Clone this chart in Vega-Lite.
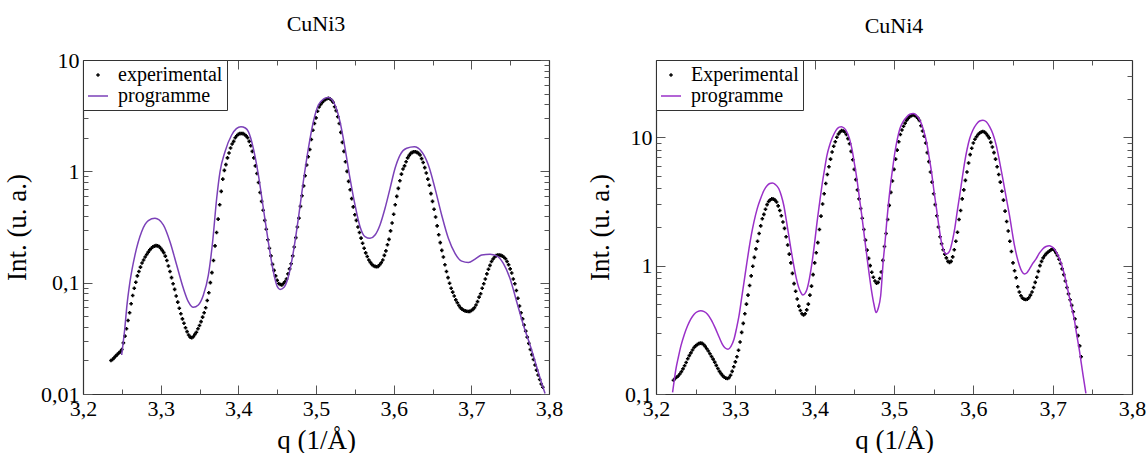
{
"$schema": "https://vega.github.io/schema/vega-lite/v6.json",
"background": "white",
"padding": {"left": 3, "top": 13, "right": 0, "bottom": 0},
"spacing": 23,
"config": {
  "view": {"stroke": null},
  "font": "Liberation Serif",
  "title": {"font": "Liberation Serif", "fontSize": 22, "fontWeight": "normal", "color": "black"},
  "axis": {"labelFont": "Liberation Serif", "titleFont": "Liberation Serif", "labelFontSize": 22, "titleFontSize": 27, "titleFontWeight": "normal", "labelColor": "black", "titleColor": "black", "domainColor": "#333", "tickColor": "#555", "grid": false, "domainWidth": 1.2, "labelOverlap": false, "labelFlush": false},
  "legend": {"orient": "top-left", "offset": 0, "padding": 4, "strokeColor": "#333", "fillColor": "white", "labelFont": "Liberation Serif", "labelFontSize": 20, "labelColor": "black", "symbolSize": 400, "symbolStrokeWidth": 1.5, "labelOffset": 9, "rowPadding": 0, "labelLimit": 300, "symbolOpacity": 1}
},
"resolve": {"scale": {"color": "independent", "shape": "independent"}, "legend": {"color": "independent", "shape": "independent"}},
"datasets": {
"cuni3": [
{"series":"experimental","q":3.236,"int":0.02},{"series":"experimental","q":3.238,"int":0.0204},{"series":"experimental","q":3.24,"int":0.0211},{"series":"experimental","q":3.242,"int":0.0219},{"series":"experimental","q":3.244,"int":0.0226},{"series":"experimental","q":3.246,"int":0.0233},{"series":"experimental","q":3.248,"int":0.024},{"series":"experimental","q":3.25,"int":0.0251},{"series":"experimental","q":3.252,"int":0.0288},{"series":"experimental","q":3.254,"int":0.0331},{"series":"experimental","q":3.256,"int":0.0385},{"series":"experimental","q":3.258,"int":0.0457},{"series":"experimental","q":3.26,"int":0.0537},{"series":"experimental","q":3.262,"int":0.0646},{"series":"experimental","q":3.264,"int":0.0767},{"series":"experimental","q":3.266,"int":0.0891},{"series":"experimental","q":3.268,"int":0.101},{"series":"experimental","q":3.27,"int":0.115},{"series":"experimental","q":3.272,"int":0.126},{"series":"experimental","q":3.274,"int":0.138},{"series":"experimental","q":3.276,"int":0.15},{"series":"experimental","q":3.278,"int":0.16},{"series":"experimental","q":3.28,"int":0.17},{"series":"experimental","q":3.282,"int":0.179},{"series":"experimental","q":3.284,"int":0.188},{"series":"experimental","q":3.286,"int":0.197},{"series":"experimental","q":3.288,"int":0.204},{"series":"experimental","q":3.29,"int":0.21},{"series":"experimental","q":3.292,"int":0.213},{"series":"experimental","q":3.294,"int":0.215},{"series":"experimental","q":3.296,"int":0.214},{"series":"experimental","q":3.298,"int":0.211},{"series":"experimental","q":3.3,"int":0.204},{"series":"experimental","q":3.302,"int":0.195},{"series":"experimental","q":3.304,"int":0.186},{"series":"experimental","q":3.306,"int":0.173},{"series":"experimental","q":3.308,"int":0.158},{"series":"experimental","q":3.31,"int":0.141},{"series":"experimental","q":3.312,"int":0.126},{"series":"experimental","q":3.314,"int":0.111},{"series":"experimental","q":3.316,"int":0.0977},{"series":"experimental","q":3.318,"int":0.0871},{"series":"experimental","q":3.32,"int":0.0759},{"series":"experimental","q":3.322,"int":0.0668},{"series":"experimental","q":3.324,"int":0.0589},{"series":"experimental","q":3.326,"int":0.0525},{"series":"experimental","q":3.328,"int":0.0473},{"series":"experimental","q":3.33,"int":0.0432},{"series":"experimental","q":3.332,"int":0.0394},{"series":"experimental","q":3.334,"int":0.0363},{"series":"experimental","q":3.336,"int":0.0339},{"series":"experimental","q":3.338,"int":0.0324},{"series":"experimental","q":3.34,"int":0.0321},{"series":"experimental","q":3.342,"int":0.0327},{"series":"experimental","q":3.344,"int":0.0343},{"series":"experimental","q":3.346,"int":0.0359},{"series":"experimental","q":3.348,"int":0.0385},{"series":"experimental","q":3.35,"int":0.0412},{"series":"experimental","q":3.352,"int":0.0447},{"series":"experimental","q":3.354,"int":0.049},{"series":"experimental","q":3.356,"int":0.0537},{"series":"experimental","q":3.358,"int":0.0596},{"series":"experimental","q":3.36,"int":0.0692},{"series":"experimental","q":3.362,"int":0.0813},{"series":"experimental","q":3.364,"int":0.1},{"series":"experimental","q":3.366,"int":0.123},{"series":"experimental","q":3.368,"int":0.158},{"series":"experimental","q":3.37,"int":0.214},{"series":"experimental","q":3.372,"int":0.282},{"series":"experimental","q":3.374,"int":0.372},{"series":"experimental","q":3.376,"int":0.501},{"series":"experimental","q":3.378,"int":0.661},{"series":"experimental","q":3.38,"int":0.851},{"series":"experimental","q":3.382,"int":1.02},{"series":"experimental","q":3.384,"int":1.15},{"series":"experimental","q":3.386,"int":1.32},{"series":"experimental","q":3.388,"int":1.46},{"series":"experimental","q":3.39,"int":1.62},{"series":"experimental","q":3.392,"int":1.76},{"series":"experimental","q":3.394,"int":1.86},{"series":"experimental","q":3.396,"int":2.0},{"series":"experimental","q":3.398,"int":2.09},{"series":"experimental","q":3.4,"int":2.15},{"series":"experimental","q":3.402,"int":2.18},{"series":"experimental","q":3.404,"int":2.19},{"series":"experimental","q":3.406,"int":2.18},{"series":"experimental","q":3.408,"int":2.14},{"series":"experimental","q":3.41,"int":2.08},{"series":"experimental","q":3.412,"int":2.0},{"series":"experimental","q":3.414,"int":1.86},{"series":"experimental","q":3.416,"int":1.7},{"series":"experimental","q":3.418,"int":1.51},{"series":"experimental","q":3.42,"int":1.32},{"series":"experimental","q":3.422,"int":1.12},{"series":"experimental","q":3.424,"int":0.955},{"series":"experimental","q":3.426,"int":0.794},{"series":"experimental","q":3.428,"int":0.646},{"series":"experimental","q":3.43,"int":0.537},{"series":"experimental","q":3.432,"int":0.447},{"series":"experimental","q":3.434,"int":0.363},{"series":"experimental","q":3.436,"int":0.302},{"series":"experimental","q":3.438,"int":0.243},{"series":"experimental","q":3.44,"int":0.204},{"series":"experimental","q":3.442,"int":0.174},{"series":"experimental","q":3.444,"int":0.146},{"series":"experimental","q":3.446,"int":0.129},{"series":"experimental","q":3.448,"int":0.115},{"series":"experimental","q":3.45,"int":0.105},{"series":"experimental","q":3.452,"int":0.0984},{"series":"experimental","q":3.454,"int":0.0962},{"series":"experimental","q":3.456,"int":0.0953},{"series":"experimental","q":3.458,"int":0.0982},{"series":"experimental","q":3.46,"int":0.102},{"series":"experimental","q":3.462,"int":0.108},{"series":"experimental","q":3.464,"int":0.12},{"series":"experimental","q":3.466,"int":0.133},{"series":"experimental","q":3.468,"int":0.148},{"series":"experimental","q":3.47,"int":0.174},{"series":"experimental","q":3.472,"int":0.209},{"series":"experimental","q":3.474,"int":0.254},{"series":"experimental","q":3.476,"int":0.316},{"series":"experimental","q":3.478,"int":0.38},{"series":"experimental","q":3.48,"int":0.484},{"series":"experimental","q":3.482,"int":0.603},{"series":"experimental","q":3.484,"int":0.741},{"series":"experimental","q":3.486,"int":0.912},{"series":"experimental","q":3.488,"int":1.14},{"series":"experimental","q":3.49,"int":1.35},{"series":"experimental","q":3.492,"int":1.57},{"series":"experimental","q":3.494,"int":1.93},{"series":"experimental","q":3.496,"int":2.34},{"series":"experimental","q":3.498,"int":2.69},{"series":"experimental","q":3.5,"int":3.02},{"series":"experimental","q":3.502,"int":3.47},{"series":"experimental","q":3.504,"int":3.78},{"series":"experimental","q":3.506,"int":3.98},{"series":"experimental","q":3.508,"int":4.15},{"series":"experimental","q":3.51,"int":4.3},{"series":"experimental","q":3.512,"int":4.42},{"series":"experimental","q":3.514,"int":4.49},{"series":"experimental","q":3.516,"int":4.53},{"series":"experimental","q":3.518,"int":4.49},{"series":"experimental","q":3.52,"int":4.35},{"series":"experimental","q":3.522,"int":4.17},{"series":"experimental","q":3.524,"int":3.8},{"series":"experimental","q":3.526,"int":3.51},{"series":"experimental","q":3.528,"int":3.09},{"series":"experimental","q":3.53,"int":2.69},{"series":"experimental","q":3.532,"int":2.24},{"series":"experimental","q":3.534,"int":1.82},{"series":"experimental","q":3.536,"int":1.51},{"series":"experimental","q":3.538,"int":1.22},{"series":"experimental","q":3.54,"int":1.0},{"series":"experimental","q":3.542,"int":0.813},{"series":"experimental","q":3.544,"int":0.684},{"series":"experimental","q":3.546,"int":0.569},{"series":"experimental","q":3.548,"int":0.479},{"series":"experimental","q":3.55,"int":0.407},{"series":"experimental","q":3.552,"int":0.363},{"series":"experimental","q":3.554,"int":0.316},{"series":"experimental","q":3.556,"int":0.282},{"series":"experimental","q":3.558,"int":0.251},{"series":"experimental","q":3.56,"int":0.226},{"series":"experimental","q":3.562,"int":0.204},{"series":"experimental","q":3.564,"int":0.185},{"series":"experimental","q":3.566,"int":0.172},{"series":"experimental","q":3.568,"int":0.16},{"series":"experimental","q":3.57,"int":0.152},{"series":"experimental","q":3.572,"int":0.146},{"series":"experimental","q":3.574,"int":0.142},{"series":"experimental","q":3.576,"int":0.14},{"series":"experimental","q":3.578,"int":0.139},{"series":"experimental","q":3.58,"int":0.14},{"series":"experimental","q":3.582,"int":0.145},{"series":"experimental","q":3.584,"int":0.151},{"series":"experimental","q":3.586,"int":0.16},{"series":"experimental","q":3.588,"int":0.176},{"series":"experimental","q":3.59,"int":0.193},{"series":"experimental","q":3.592,"int":0.219},{"series":"experimental","q":3.594,"int":0.245},{"series":"experimental","q":3.596,"int":0.292},{"series":"experimental","q":3.598,"int":0.343},{"series":"experimental","q":3.6,"int":0.412},{"series":"experimental","q":3.602,"int":0.501},{"series":"experimental","q":3.604,"int":0.596},{"series":"experimental","q":3.606,"int":0.703},{"series":"experimental","q":3.608,"int":0.822},{"series":"experimental","q":3.61,"int":0.944},{"series":"experimental","q":3.612,"int":1.05},{"series":"experimental","q":3.614,"int":1.12},{"series":"experimental","q":3.616,"int":1.22},{"series":"experimental","q":3.618,"int":1.32},{"series":"experimental","q":3.62,"int":1.39},{"series":"experimental","q":3.622,"int":1.45},{"series":"experimental","q":3.624,"int":1.48},{"series":"experimental","q":3.626,"int":1.5},{"series":"experimental","q":3.628,"int":1.5},{"series":"experimental","q":3.63,"int":1.48},{"series":"experimental","q":3.632,"int":1.45},{"series":"experimental","q":3.634,"int":1.4},{"series":"experimental","q":3.636,"int":1.3},{"series":"experimental","q":3.638,"int":1.2},{"series":"experimental","q":3.64,"int":1.08},{"series":"experimental","q":3.642,"int":0.966},{"series":"experimental","q":3.644,"int":0.851},{"series":"experimental","q":3.646,"int":0.75},{"series":"experimental","q":3.648,"int":0.631},{"series":"experimental","q":3.65,"int":0.537},{"series":"experimental","q":3.652,"int":0.457},{"series":"experimental","q":3.654,"int":0.389},{"series":"experimental","q":3.656,"int":0.324},{"series":"experimental","q":3.658,"int":0.269},{"series":"experimental","q":3.66,"int":0.229},{"series":"experimental","q":3.662,"int":0.195},{"series":"experimental","q":3.664,"int":0.17},{"series":"experimental","q":3.666,"int":0.145},{"series":"experimental","q":3.668,"int":0.126},{"series":"experimental","q":3.67,"int":0.111},{"series":"experimental","q":3.672,"int":0.0989},{"series":"experimental","q":3.674,"int":0.0891},{"series":"experimental","q":3.676,"int":0.0822},{"series":"experimental","q":3.678,"int":0.0759},{"series":"experimental","q":3.68,"int":0.07},{"series":"experimental","q":3.682,"int":0.0661},{"series":"experimental","q":3.684,"int":0.0624},{"series":"experimental","q":3.686,"int":0.0596},{"series":"experimental","q":3.688,"int":0.0578},{"series":"experimental","q":3.69,"int":0.0566},{"series":"experimental","q":3.692,"int":0.0558},{"series":"experimental","q":3.694,"int":0.0553},{"series":"experimental","q":3.696,"int":0.055},{"series":"experimental","q":3.698,"int":0.0552},{"series":"experimental","q":3.7,"int":0.0562},{"series":"experimental","q":3.702,"int":0.0575},{"series":"experimental","q":3.704,"int":0.0596},{"series":"experimental","q":3.706,"int":0.0631},{"series":"experimental","q":3.708,"int":0.0676},{"series":"experimental","q":3.71,"int":0.0741},{"series":"experimental","q":3.712,"int":0.0794},{"series":"experimental","q":3.714,"int":0.0891},{"series":"experimental","q":3.716,"int":0.0977},{"series":"experimental","q":3.718,"int":0.108},{"series":"experimental","q":3.72,"int":0.12},{"series":"experimental","q":3.722,"int":0.132},{"series":"experimental","q":3.724,"int":0.143},{"series":"experimental","q":3.726,"int":0.155},{"series":"experimental","q":3.728,"int":0.163},{"series":"experimental","q":3.73,"int":0.17},{"series":"experimental","q":3.732,"int":0.175},{"series":"experimental","q":3.734,"int":0.177},{"series":"experimental","q":3.736,"int":0.177},{"series":"experimental","q":3.738,"int":0.176},{"series":"experimental","q":3.74,"int":0.173},{"series":"experimental","q":3.742,"int":0.169},{"series":"experimental","q":3.744,"int":0.164},{"series":"experimental","q":3.746,"int":0.155},{"series":"experimental","q":3.748,"int":0.145},{"series":"experimental","q":3.75,"int":0.133},{"series":"experimental","q":3.752,"int":0.122},{"series":"experimental","q":3.754,"int":0.108},{"series":"experimental","q":3.756,"int":0.0977},{"series":"experimental","q":3.758,"int":0.0851},{"series":"experimental","q":3.76,"int":0.0724},{"series":"experimental","q":3.762,"int":0.0617},{"series":"experimental","q":3.764,"int":0.0537},{"series":"experimental","q":3.766,"int":0.0473},{"series":"experimental","q":3.768,"int":0.0417},{"series":"experimental","q":3.77,"int":0.0367},{"series":"experimental","q":3.772,"int":0.0324},{"series":"experimental","q":3.774,"int":0.0285},{"series":"experimental","q":3.776,"int":0.0251},{"series":"experimental","q":3.778,"int":0.0226},{"series":"experimental","q":3.78,"int":0.0204},{"series":"experimental","q":3.782,"int":0.0182},{"series":"experimental","q":3.784,"int":0.0164},{"series":"experimental","q":3.786,"int":0.0148},{"series":"experimental","q":3.788,"int":0.0135},{"series":"experimental","q":3.79,"int":0.0123},{"series":"experimental","q":3.792,"int":0.0115},
{"series":"programme","q":3.2498,"int":0.0224},{"series":"programme","q":3.2519,"int":0.0295},{"series":"programme","q":3.254,"int":0.04},{"series":"programme","q":3.2562,"int":0.059},{"series":"programme","q":3.2605,"int":0.102},{"series":"programme","q":3.2669,"int":0.177},{"series":"programme","q":3.2755,"int":0.287},{"series":"programme","q":3.2841,"int":0.36},{"series":"programme","q":3.2927,"int":0.378},{"series":"programme","q":3.3034,"int":0.33},{"series":"programme","q":3.312,"int":0.233},{"series":"programme","q":3.3206,"int":0.144},{"series":"programme","q":3.3292,"int":0.089},{"series":"programme","q":3.3356,"int":0.0675},{"series":"programme","q":3.342,"int":0.06},{"series":"programme","q":3.3485,"int":0.063},{"series":"programme","q":3.3549,"int":0.077},{"series":"programme","q":3.3614,"int":0.117},{"series":"programme","q":3.3669,"int":0.233},{"series":"programme","q":3.3721,"int":0.57},{"series":"programme","q":3.3764,"int":0.99},{"series":"programme","q":3.3828,"int":1.5},{"series":"programme","q":3.3914,"int":2.12},{"series":"programme","q":3.3975,"int":2.42},{"series":"programme","q":3.4034,"int":2.52},{"series":"programme","q":3.409,"int":2.45},{"series":"programme","q":3.4129,"int":2.27},{"series":"programme","q":3.4193,"int":1.61},{"series":"programme","q":3.4258,"int":0.93},{"series":"programme","q":3.4322,"int":0.466},{"series":"programme","q":3.4386,"int":0.233},{"series":"programme","q":3.4451,"int":0.126},{"series":"programme","q":3.4502,"int":0.092},{"series":"programme","q":3.4537,"int":0.087},{"series":"programme","q":3.4589,"int":0.091},{"series":"programme","q":3.4644,"int":0.113},{"series":"programme","q":3.4709,"int":0.19},{"series":"programme","q":3.4773,"int":0.378},{"series":"programme","q":3.4837,"int":0.81},{"series":"programme","q":3.4902,"int":1.61},{"series":"programme","q":3.4966,"int":2.79},{"series":"programme","q":3.503,"int":3.94},{"series":"programme","q":3.5095,"int":4.45},{"series":"programme","q":3.5159,"int":4.6},{"series":"programme","q":3.5245,"int":3.94},{"series":"programme","q":3.5309,"int":2.79},{"series":"programme","q":3.5374,"int":1.61},{"series":"programme","q":3.5438,"int":0.865},{"series":"programme","q":3.5502,"int":0.5},{"series":"programme","q":3.5567,"int":0.318},{"series":"programme","q":3.5631,"int":0.259},{"series":"programme","q":3.5695,"int":0.25},{"series":"programme","q":3.576,"int":0.268},{"series":"programme","q":3.5824,"int":0.33},{"series":"programme","q":3.5889,"int":0.466},{"series":"programme","q":3.5953,"int":0.7},{"series":"programme","q":3.6017,"int":1.06},{"series":"programme","q":3.6082,"int":1.4},{"series":"programme","q":3.6168,"int":1.61},{"series":"programme","q":3.6266,"int":1.66},{"series":"programme","q":3.6361,"int":1.5},{"series":"programme","q":3.6447,"int":1.14},{"series":"programme","q":3.6533,"int":0.7},{"series":"programme","q":3.6618,"int":0.405},{"series":"programme","q":3.6704,"int":0.25},{"series":"programme","q":3.679,"int":0.183},{"series":"programme","q":3.6876,"int":0.156},{"series":"programme","q":3.6962,"int":0.152},{"series":"programme","q":3.7048,"int":0.163},{"series":"programme","q":3.7133,"int":0.177},{"series":"programme","q":3.7241,"int":0.18},{"series":"programme","q":3.7326,"int":0.174},{"series":"programme","q":3.7412,"int":0.149},{"series":"programme","q":3.7498,"int":0.109},{"series":"programme","q":3.7584,"int":0.0675},{"series":"programme","q":3.767,"int":0.0417},{"series":"programme","q":3.7756,"int":0.0275},{"series":"programme","q":3.7841,"int":0.0176},{"series":"programme","q":3.7906,"int":0.0125},{"series":"programme","q":3.7949,"int":0.0101}
],
"cuni4": [
{"series":"Experimental","q":3.222,"int":0.128},{"series":"Experimental","q":3.224,"int":0.132},{"series":"Experimental","q":3.226,"int":0.135},{"series":"Experimental","q":3.228,"int":0.138},{"series":"Experimental","q":3.23,"int":0.143},{"series":"Experimental","q":3.232,"int":0.149},{"series":"Experimental","q":3.234,"int":0.157},{"series":"Experimental","q":3.236,"int":0.166},{"series":"Experimental","q":3.238,"int":0.176},{"series":"Experimental","q":3.24,"int":0.188},{"series":"Experimental","q":3.242,"int":0.199},{"series":"Experimental","q":3.244,"int":0.209},{"series":"Experimental","q":3.246,"int":0.22},{"series":"Experimental","q":3.248,"int":0.23},{"series":"Experimental","q":3.25,"int":0.237},{"series":"Experimental","q":3.252,"int":0.243},{"series":"Experimental","q":3.254,"int":0.247},{"series":"Experimental","q":3.256,"int":0.249},{"series":"Experimental","q":3.258,"int":0.248},{"series":"Experimental","q":3.26,"int":0.243},{"series":"Experimental","q":3.262,"int":0.235},{"series":"Experimental","q":3.264,"int":0.225},{"series":"Experimental","q":3.266,"int":0.216},{"series":"Experimental","q":3.268,"int":0.206},{"series":"Experimental","q":3.27,"int":0.196},{"series":"Experimental","q":3.272,"int":0.187},{"series":"Experimental","q":3.274,"int":0.177},{"series":"Experimental","q":3.276,"int":0.167},{"series":"Experimental","q":3.278,"int":0.158},{"series":"Experimental","q":3.28,"int":0.15},{"series":"Experimental","q":3.282,"int":0.144},{"series":"Experimental","q":3.284,"int":0.139},{"series":"Experimental","q":3.286,"int":0.135},{"series":"Experimental","q":3.288,"int":0.133},{"series":"Experimental","q":3.29,"int":0.132},{"series":"Experimental","q":3.292,"int":0.134},{"series":"Experimental","q":3.294,"int":0.14},{"series":"Experimental","q":3.296,"int":0.15},{"series":"Experimental","q":3.298,"int":0.163},{"series":"Experimental","q":3.3,"int":0.178},{"series":"Experimental","q":3.302,"int":0.195},{"series":"Experimental","q":3.304,"int":0.219},{"series":"Experimental","q":3.306,"int":0.254},{"series":"Experimental","q":3.308,"int":0.302},{"series":"Experimental","q":3.31,"int":0.355},{"series":"Experimental","q":3.312,"int":0.422},{"series":"Experimental","q":3.314,"int":0.501},{"series":"Experimental","q":3.316,"int":0.589},{"series":"Experimental","q":3.318,"int":0.7},{"series":"Experimental","q":3.32,"int":0.832},{"series":"Experimental","q":3.322,"int":0.99},{"series":"Experimental","q":3.324,"int":1.16},{"series":"Experimental","q":3.326,"int":1.35},{"series":"Experimental","q":3.328,"int":1.55},{"series":"Experimental","q":3.33,"int":1.78},{"series":"Experimental","q":3.332,"int":2.04},{"series":"Experimental","q":3.334,"int":2.32},{"series":"Experimental","q":3.336,"int":2.51},{"series":"Experimental","q":3.338,"int":2.75},{"series":"Experimental","q":3.34,"int":2.99},{"series":"Experimental","q":3.342,"int":3.16},{"series":"Experimental","q":3.344,"int":3.26},{"series":"Experimental","q":3.346,"int":3.31},{"series":"Experimental","q":3.348,"int":3.3},{"series":"Experimental","q":3.35,"int":3.24},{"series":"Experimental","q":3.352,"int":3.13},{"series":"Experimental","q":3.354,"int":2.92},{"series":"Experimental","q":3.356,"int":2.69},{"series":"Experimental","q":3.358,"int":2.45},{"series":"Experimental","q":3.36,"int":2.19},{"series":"Experimental","q":3.362,"int":1.95},{"series":"Experimental","q":3.364,"int":1.68},{"series":"Experimental","q":3.366,"int":1.45},{"series":"Experimental","q":3.368,"int":1.23},{"series":"Experimental","q":3.37,"int":1.05},{"series":"Experimental","q":3.372,"int":0.871},{"series":"Experimental","q":3.374,"int":0.724},{"series":"Experimental","q":3.376,"int":0.631},{"series":"Experimental","q":3.378,"int":0.55},{"series":"Experimental","q":3.38,"int":0.484},{"series":"Experimental","q":3.382,"int":0.447},{"series":"Experimental","q":3.384,"int":0.422},{"series":"Experimental","q":3.386,"int":0.412},{"series":"Experimental","q":3.388,"int":0.422},{"series":"Experimental","q":3.39,"int":0.452},{"series":"Experimental","q":3.392,"int":0.501},{"series":"Experimental","q":3.394,"int":0.589},{"series":"Experimental","q":3.396,"int":0.692},{"series":"Experimental","q":3.398,"int":0.851},{"series":"Experimental","q":3.4,"int":1.05},{"series":"Experimental","q":3.402,"int":1.26},{"series":"Experimental","q":3.404,"int":1.51},{"series":"Experimental","q":3.406,"int":1.91},{"series":"Experimental","q":3.408,"int":2.43},{"series":"Experimental","q":3.41,"int":3.02},{"series":"Experimental","q":3.412,"int":3.63},{"series":"Experimental","q":3.414,"int":4.37},{"series":"Experimental","q":3.416,"int":5.13},{"series":"Experimental","q":3.418,"int":5.89},{"series":"Experimental","q":3.42,"int":6.76},{"series":"Experimental","q":3.422,"int":7.67},{"series":"Experimental","q":3.424,"int":8.51},{"series":"Experimental","q":3.426,"int":9.23},{"series":"Experimental","q":3.428,"int":10.0},{"series":"Experimental","q":3.43,"int":10.6},{"series":"Experimental","q":3.432,"int":11.0},{"series":"Experimental","q":3.434,"int":11.3},{"series":"Experimental","q":3.436,"int":11.2},{"series":"Experimental","q":3.438,"int":11.0},{"series":"Experimental","q":3.44,"int":10.5},{"series":"Experimental","q":3.442,"int":9.77},{"series":"Experimental","q":3.444,"int":8.91},{"series":"Experimental","q":3.446,"int":7.76},{"series":"Experimental","q":3.448,"int":6.68},{"series":"Experimental","q":3.45,"int":5.62},{"series":"Experimental","q":3.452,"int":4.68},{"series":"Experimental","q":3.454,"int":3.89},{"series":"Experimental","q":3.456,"int":3.31},{"series":"Experimental","q":3.458,"int":2.79},{"series":"Experimental","q":3.46,"int":2.34},{"series":"Experimental","q":3.462,"int":1.91},{"series":"Experimental","q":3.464,"int":1.58},{"series":"Experimental","q":3.466,"int":1.32},{"series":"Experimental","q":3.468,"int":1.14},{"series":"Experimental","q":3.47,"int":1.0},{"series":"Experimental","q":3.472,"int":0.887},{"series":"Experimental","q":3.474,"int":0.813},{"series":"Experimental","q":3.476,"int":0.759},{"series":"Experimental","q":3.478,"int":0.73},{"series":"Experimental","q":3.48,"int":0.741},{"series":"Experimental","q":3.482,"int":0.794},{"series":"Experimental","q":3.484,"int":0.891},{"series":"Experimental","q":3.486,"int":1.1},{"series":"Experimental","q":3.488,"int":1.41},{"series":"Experimental","q":3.49,"int":1.78},{"series":"Experimental","q":3.492,"int":2.29},{"series":"Experimental","q":3.494,"int":2.95},{"series":"Experimental","q":3.496,"int":3.72},{"series":"Experimental","q":3.498,"int":4.57},{"series":"Experimental","q":3.5,"int":5.62},{"series":"Experimental","q":3.502,"int":6.76},{"series":"Experimental","q":3.504,"int":7.94},{"series":"Experimental","q":3.506,"int":9.23},{"series":"Experimental","q":3.508,"int":10.5},{"series":"Experimental","q":3.51,"int":11.4},{"series":"Experimental","q":3.512,"int":12.2},{"series":"Experimental","q":3.514,"int":12.9},{"series":"Experimental","q":3.516,"int":13.6},{"series":"Experimental","q":3.518,"int":14.1},{"series":"Experimental","q":3.52,"int":14.5},{"series":"Experimental","q":3.522,"int":14.7},{"series":"Experimental","q":3.524,"int":14.9},{"series":"Experimental","q":3.526,"int":14.8},{"series":"Experimental","q":3.528,"int":14.5},{"series":"Experimental","q":3.53,"int":14.1},{"series":"Experimental","q":3.532,"int":13.5},{"series":"Experimental","q":3.534,"int":12.3},{"series":"Experimental","q":3.536,"int":11.2},{"series":"Experimental","q":3.538,"int":10.2},{"series":"Experimental","q":3.54,"int":9.02},{"series":"Experimental","q":3.542,"int":7.59},{"series":"Experimental","q":3.544,"int":6.46},{"series":"Experimental","q":3.546,"int":5.37},{"series":"Experimental","q":3.548,"int":4.47},{"series":"Experimental","q":3.55,"int":3.63},{"series":"Experimental","q":3.552,"int":2.99},{"series":"Experimental","q":3.554,"int":2.45},{"series":"Experimental","q":3.556,"int":2.0},{"series":"Experimental","q":3.558,"int":1.68},{"series":"Experimental","q":3.56,"int":1.48},{"series":"Experimental","q":3.562,"int":1.33},{"series":"Experimental","q":3.564,"int":1.23},{"series":"Experimental","q":3.566,"int":1.15},{"series":"Experimental","q":3.568,"int":1.08},{"series":"Experimental","q":3.57,"int":1.06},{"series":"Experimental","q":3.572,"int":1.08},{"series":"Experimental","q":3.574,"int":1.17},{"series":"Experimental","q":3.576,"int":1.33},{"series":"Experimental","q":3.578,"int":1.55},{"series":"Experimental","q":3.58,"int":1.82},{"series":"Experimental","q":3.582,"int":2.29},{"series":"Experimental","q":3.584,"int":2.69},{"series":"Experimental","q":3.586,"int":3.31},{"series":"Experimental","q":3.588,"int":3.89},{"series":"Experimental","q":3.59,"int":4.62},{"series":"Experimental","q":3.592,"int":5.37},{"series":"Experimental","q":3.594,"int":6.31},{"series":"Experimental","q":3.596,"int":7.33},{"series":"Experimental","q":3.598,"int":8.22},{"series":"Experimental","q":3.6,"int":9.02},{"series":"Experimental","q":3.602,"int":9.66},{"series":"Experimental","q":3.604,"int":10.1},{"series":"Experimental","q":3.606,"int":10.5},{"series":"Experimental","q":3.608,"int":10.8},{"series":"Experimental","q":3.61,"int":11.0},{"series":"Experimental","q":3.612,"int":11.1},{"series":"Experimental","q":3.614,"int":11.0},{"series":"Experimental","q":3.616,"int":10.7},{"series":"Experimental","q":3.618,"int":10.3},{"series":"Experimental","q":3.62,"int":9.89},{"series":"Experimental","q":3.622,"int":9.12},{"series":"Experimental","q":3.624,"int":8.41},{"series":"Experimental","q":3.626,"int":7.59},{"series":"Experimental","q":3.628,"int":6.76},{"series":"Experimental","q":3.63,"int":5.89},{"series":"Experimental","q":3.632,"int":5.13},{"series":"Experimental","q":3.634,"int":4.47},{"series":"Experimental","q":3.636,"int":3.8},{"series":"Experimental","q":3.638,"int":3.24},{"series":"Experimental","q":3.64,"int":2.66},{"series":"Experimental","q":3.642,"int":2.21},{"series":"Experimental","q":3.644,"int":1.86},{"series":"Experimental","q":3.646,"int":1.55},{"series":"Experimental","q":3.648,"int":1.29},{"series":"Experimental","q":3.65,"int":1.05},{"series":"Experimental","q":3.652,"int":0.912},{"series":"Experimental","q":3.654,"int":0.804},{"series":"Experimental","q":3.656,"int":0.684},{"series":"Experimental","q":3.658,"int":0.624},{"series":"Experimental","q":3.66,"int":0.582},{"series":"Experimental","q":3.662,"int":0.558},{"series":"Experimental","q":3.664,"int":0.547},{"series":"Experimental","q":3.666,"int":0.545},{"series":"Experimental","q":3.668,"int":0.547},{"series":"Experimental","q":3.67,"int":0.562},{"series":"Experimental","q":3.672,"int":0.589},{"series":"Experimental","q":3.674,"int":0.624},{"series":"Experimental","q":3.676,"int":0.676},{"series":"Experimental","q":3.678,"int":0.741},{"series":"Experimental","q":3.68,"int":0.813},{"series":"Experimental","q":3.682,"int":0.902},{"series":"Experimental","q":3.684,"int":1.0},{"series":"Experimental","q":3.686,"int":1.08},{"series":"Experimental","q":3.688,"int":1.15},{"series":"Experimental","q":3.69,"int":1.2},{"series":"Experimental","q":3.692,"int":1.24},{"series":"Experimental","q":3.694,"int":1.27},{"series":"Experimental","q":3.696,"int":1.3},{"series":"Experimental","q":3.698,"int":1.33},{"series":"Experimental","q":3.7,"int":1.35},{"series":"Experimental","q":3.702,"int":1.32},{"series":"Experimental","q":3.704,"int":1.26},{"series":"Experimental","q":3.706,"int":1.2},{"series":"Experimental","q":3.708,"int":1.12},{"series":"Experimental","q":3.71,"int":1.04},{"series":"Experimental","q":3.712,"int":0.944},{"series":"Experimental","q":3.714,"int":0.851},{"series":"Experimental","q":3.716,"int":0.759},{"series":"Experimental","q":3.718,"int":0.676},{"series":"Experimental","q":3.72,"int":0.603},{"series":"Experimental","q":3.722,"int":0.543},{"series":"Experimental","q":3.724,"int":0.49},{"series":"Experimental","q":3.726,"int":0.437},{"series":"Experimental","q":3.728,"int":0.385},{"series":"Experimental","q":3.73,"int":0.331},{"series":"Experimental","q":3.732,"int":0.285},{"series":"Experimental","q":3.734,"int":0.237},{"series":"Experimental","q":3.736,"int":0.195},
{"series":"programme","q":3.2209,"int":0.103},{"series":"programme","q":3.223,"int":0.128},{"series":"programme","q":3.2251,"int":0.156},{"series":"programme","q":3.2283,"int":0.195},{"series":"programme","q":3.2314,"int":0.237},{"series":"programme","q":3.2356,"int":0.29},{"series":"programme","q":3.2398,"int":0.34},{"series":"programme","q":3.244,"int":0.385},{"series":"programme","q":3.2481,"int":0.419},{"series":"programme","q":3.2523,"int":0.438},{"series":"programme","q":3.2565,"int":0.445},{"series":"programme","q":3.2607,"int":0.438},{"series":"programme","q":3.2649,"int":0.419},{"series":"programme","q":3.27,"int":0.375},{"series":"programme","q":3.2753,"int":0.32},{"series":"programme","q":3.2795,"int":0.278},{"series":"programme","q":3.2837,"int":0.244},{"series":"programme","q":3.2872,"int":0.228},{"series":"programme","q":3.2908,"int":0.223},{"series":"programme","q":3.2945,"int":0.235},{"series":"programme","q":3.2983,"int":0.267},{"series":"programme","q":3.3015,"int":0.325},{"series":"programme","q":3.3046,"int":0.406},{"series":"programme","q":3.3078,"int":0.55},{"series":"programme","q":3.3109,"int":0.74},{"series":"programme","q":3.314,"int":1.0},{"series":"programme","q":3.3172,"int":1.35},{"series":"programme","q":3.3203,"int":1.75},{"series":"programme","q":3.3234,"int":2.18},{"series":"programme","q":3.3276,"int":2.78},{"series":"programme","q":3.3318,"int":3.32},{"series":"programme","q":3.336,"int":3.85},{"series":"programme","q":3.3402,"int":4.21},{"series":"programme","q":3.3434,"int":4.36},{"series":"programme","q":3.3465,"int":4.4},{"series":"programme","q":3.3506,"int":4.28},{"series":"programme","q":3.3548,"int":3.97},{"series":"programme","q":3.358,"int":3.5},{"series":"programme","q":3.3611,"int":2.94},{"series":"programme","q":3.3643,"int":2.25},{"series":"programme","q":3.3674,"int":1.71},{"series":"programme","q":3.3705,"int":1.3},{"series":"programme","q":3.3737,"int":1.0},{"series":"programme","q":3.3768,"int":0.8},{"series":"programme","q":3.3799,"int":0.677},{"series":"programme","q":3.3825,"int":0.62},{"series":"programme","q":3.385,"int":0.59},{"series":"programme","q":3.3877,"int":0.605},{"series":"programme","q":3.3904,"int":0.658},{"series":"programme","q":3.3935,"int":0.8},{"series":"programme","q":3.3967,"int":1.06},{"series":"programme","q":3.3999,"int":1.5},{"series":"programme","q":3.403,"int":2.18},{"series":"programme","q":3.4061,"int":3.05},{"series":"programme","q":3.4092,"int":4.21},{"series":"programme","q":3.4124,"int":5.6},{"series":"programme","q":3.4155,"int":7.23},{"series":"programme","q":3.4187,"int":8.6},{"series":"programme","q":3.4218,"int":9.77},{"series":"programme","q":3.425,"int":10.8},{"series":"programme","q":3.4281,"int":11.6},{"series":"programme","q":3.431,"int":12.0},{"series":"programme","q":3.4336,"int":12.1},{"series":"programme","q":3.437,"int":11.8},{"series":"programme","q":3.4406,"int":11.0},{"series":"programme","q":3.4438,"int":9.8},{"series":"programme","q":3.4469,"int":8.15},{"series":"programme","q":3.45,"int":6.3},{"series":"programme","q":3.4532,"int":4.75},{"series":"programme","q":3.4563,"int":3.4},{"series":"programme","q":3.4594,"int":2.46},{"series":"programme","q":3.4626,"int":1.7},{"series":"programme","q":3.4657,"int":1.2},{"series":"programme","q":3.4688,"int":0.85},{"series":"programme","q":3.472,"int":0.62},{"series":"programme","q":3.4747,"int":0.5},{"series":"programme","q":3.4774,"int":0.432},{"series":"programme","q":3.4803,"int":0.47},{"series":"programme","q":3.4832,"int":0.583},{"series":"programme","q":3.4866,"int":1.12},{"series":"programme","q":3.4887,"int":1.52},{"series":"programme","q":3.4908,"int":2.18},{"series":"programme","q":3.4929,"int":3.0},{"series":"programme","q":3.495,"int":3.97},{"series":"programme","q":3.4981,"int":5.6},{"series":"programme","q":3.5012,"int":7.68},{"series":"programme","q":3.5044,"int":9.8},{"series":"programme","q":3.5075,"int":11.7},{"series":"programme","q":3.5117,"int":13.3},{"series":"programme","q":3.5159,"int":14.4},{"series":"programme","q":3.52,"int":15.1},{"series":"programme","q":3.5243,"int":15.3},{"series":"programme","q":3.5285,"int":14.8},{"series":"programme","q":3.5326,"int":13.6},{"series":"programme","q":3.5368,"int":11.6},{"series":"programme","q":3.541,"int":9.19},{"series":"programme","q":3.5441,"int":7.1},{"series":"programme","q":3.5473,"int":5.36},{"series":"programme","q":3.5504,"int":3.8},{"series":"programme","q":3.5536,"int":2.77},{"series":"programme","q":3.5567,"int":2.0},{"series":"programme","q":3.5598,"int":1.52},{"series":"programme","q":3.5626,"int":1.32},{"series":"programme","q":3.5653,"int":1.23},{"series":"programme","q":3.5682,"int":1.25},{"series":"programme","q":3.5711,"int":1.35},{"series":"programme","q":3.5738,"int":1.58},{"series":"programme","q":3.5765,"int":1.93},{"series":"programme","q":3.5797,"int":2.65},{"series":"programme","q":3.5828,"int":3.52},{"series":"programme","q":3.586,"int":4.8},{"series":"programme","q":3.5891,"int":6.41},{"series":"programme","q":3.5922,"int":8.1},{"series":"programme","q":3.5954,"int":9.77},{"series":"programme","q":3.5995,"int":11.4},{"series":"programme","q":3.6037,"int":12.6},{"series":"programme","q":3.6079,"int":13.4},{"series":"programme","q":3.6121,"int":13.6},{"series":"programme","q":3.6163,"int":13.2},{"series":"programme","q":3.6205,"int":12.1},{"series":"programme","q":3.6247,"int":10.6},{"series":"programme","q":3.6289,"int":8.65},{"series":"programme","q":3.633,"int":6.5},{"series":"programme","q":3.6372,"int":4.75},{"series":"programme","q":3.6414,"int":3.4},{"series":"programme","q":3.6456,"int":2.46},{"series":"programme","q":3.6487,"int":1.87},{"series":"programme","q":3.6519,"int":1.43},{"series":"programme","q":3.655,"int":1.17},{"series":"programme","q":3.6582,"int":1.0},{"series":"programme","q":3.6613,"int":0.9},{"series":"programme","q":3.6644,"int":0.861},{"series":"programme","q":3.6676,"int":0.88},{"series":"programme","q":3.6707,"int":0.94},{"series":"programme","q":3.6749,"int":1.04},{"series":"programme","q":3.6791,"int":1.13},{"series":"programme","q":3.6832,"int":1.25},{"series":"programme","q":3.6874,"int":1.35},{"series":"programme","q":3.6916,"int":1.41},{"series":"programme","q":3.6958,"int":1.43},{"series":"programme","q":3.699,"int":1.4},{"series":"programme","q":3.7021,"int":1.35},{"series":"programme","q":3.7062,"int":1.22},{"series":"programme","q":3.7104,"int":1.06},{"series":"programme","q":3.7146,"int":0.86},{"series":"programme","q":3.7188,"int":0.658},{"series":"programme","q":3.723,"int":0.5},{"series":"programme","q":3.7272,"int":0.383},{"series":"programme","q":3.7303,"int":0.29},{"series":"programme","q":3.7335,"int":0.223},{"series":"programme","q":3.736,"int":0.175},{"series":"programme","q":3.7385,"int":0.138},{"series":"programme","q":3.7419,"int":0.101}
]
},
"hconcat": [
{
  "title": {"text": "CuNi3", "offset": 13},
  "width": 466, "height": 334,
  "data": {"name": "cuni3"},
  "resolve": {"axis": {"x": "independent", "y": "independent"}},
  "layer": [
    {
      "transform": [{"filter": "datum.series === 'experimental'"}],
      "mark": {"type": "point", "filled": false, "size": 400, "strokeWidth": 1.6, "opacity": 1},
      "encoding": {
        "x": {"field": "q", "type": "quantitative", "scale": {"domain": [3.2, 3.8], "nice": false, "zero": false},
              "axis": {"orient": "bottom", "values": [3.2, 3.3, 3.4, 3.5, 3.6, 3.7, 3.8], "tickSize": -9, "labelPadding": 13, "labelExpr": "replace(format(datum.value, '.1f'), '.', ',')", "title": "q (1/Å)", "titlePadding": 8}},
        "y": {"field": "int", "type": "quantitative", "scale": {"type": "log", "domain": [0.01, 10], "nice": false},
              "axis": {"orient": "left", "values": [0.01, 0.1, 1, 10], "tickSize": -9, "labelPadding": 13, "labelExpr": "replace(format(datum.value, '~g'), '.', ',')", "title": "Int. (u. a.)", "titlePadding": 9}},
        "color": {"field": "series", "type": "nominal", "scale": {"domain": ["experimental", "programme"], "range": ["black", "#7b41b8"]}, "legend": {"title": null}},
        "shape": {"field": "series", "type": "nominal", "scale": {"domain": ["experimental", "programme"], "range": ["M-0.18,0L0.18,0M0,-0.18L0,0.18", "M-1,0L1,0"]}, "legend": {"title": null}}
      }
    },
    {
      "transform": [{"filter": "datum.series === 'programme'"}],
      "mark": {"type": "line", "strokeWidth": 1.5, "clip": true, "color": "#7b41b8", "interpolate": "monotone"},
      "encoding": {
        "x": {"field": "q", "type": "quantitative", "scale": {"domain": [3.2, 3.8], "nice": false, "zero": false},
              "axis": {"orient": "bottom", "values": [3.25, 3.35, 3.45, 3.55, 3.65, 3.75], "tickSize": -5, "labels": false, "domain": false, "title": null}},
        "y": {"field": "int", "type": "quantitative", "scale": {"type": "log", "domain": [0.01, 10], "nice": false},
              "axis": {"orient": "left", "values": [0.02,0.03,0.04,0.05,0.06,0.07,0.08,0.09,0.2,0.3,0.4,0.5,0.6,0.7,0.8,0.9,2,3,4,5,6,7,8,9], "tickSize": -5, "labels": false, "domain": false, "title": null}}
      }
    },
    {
      "mark": {"type": "point", "opacity": 0},
      "encoding": {
        "x": {"field": "q", "type": "quantitative", "scale": {"domain": [3.2, 3.8], "nice": false, "zero": false},
              "axis": {"orient": "top", "values": [3.2, 3.3, 3.4, 3.5, 3.6, 3.7, 3.8], "tickSize": -9, "labels": false, "title": null}},
        "y": {"field": "int", "type": "quantitative", "scale": {"type": "log", "domain": [0.01, 10], "nice": false},
              "axis": {"orient": "right", "values": [0.01, 0.1, 1, 10], "tickSize": -9, "labels": false, "title": null}}
      }
    },
    {
      "mark": {"type": "point", "opacity": 0},
      "encoding": {
        "x": {"field": "q", "type": "quantitative", "scale": {"domain": [3.2, 3.8], "nice": false, "zero": false},
              "axis": {"orient": "top", "values": [3.25, 3.35, 3.45, 3.55, 3.65, 3.75], "tickSize": -5, "labels": false, "domain": false, "title": null}},
        "y": {"field": "int", "type": "quantitative", "scale": {"type": "log", "domain": [0.01, 10], "nice": false},
              "axis": {"orient": "right", "values": [0.02,0.03,0.04,0.05,0.06,0.07,0.08,0.09,0.2,0.3,0.4,0.5,0.6,0.7,0.8,0.9,2,3,4,5,6,7,8,9], "tickSize": -5, "labels": false, "domain": false, "title": null}}
      }
    }
  ]
},
{
  "title": {"text": "CuNi4", "offset": 22},
  "width": 476, "height": 334,
  "data": {"name": "cuni4"},
  "resolve": {"axis": {"x": "independent", "y": "independent"}},
  "layer": [
    {
      "transform": [{"filter": "datum.series === 'Experimental'"}],
      "mark": {"type": "point", "filled": false, "size": 400, "strokeWidth": 1.6, "opacity": 1},
      "encoding": {
        "x": {"field": "q", "type": "quantitative", "scale": {"domain": [3.2, 3.8], "nice": false, "zero": false},
              "axis": {"orient": "bottom", "values": [3.2, 3.3, 3.4, 3.5, 3.6, 3.7, 3.8], "tickSize": -9, "labelPadding": 13, "labelExpr": "replace(format(datum.value, '.1f'), '.', ',')", "title": "q (1/Å)", "titlePadding": 8}},
        "y": {"field": "int", "type": "quantitative", "scale": {"type": "log", "domain": [0.1, 40], "nice": false},
              "axis": {"orient": "left", "values": [0.1, 1, 10], "tickSize": -9, "labelPadding": 13, "labelExpr": "replace(format(datum.value, '~g'), '.', ',')", "title": "Int. (u. a.)", "titlePadding": 10}},
        "color": {"field": "series", "type": "nominal", "scale": {"domain": ["Experimental", "programme"], "range": ["black", "#9a30c8"]}, "legend": {"title": null}},
        "shape": {"field": "series", "type": "nominal", "scale": {"domain": ["Experimental", "programme"], "range": ["M-0.18,0L0.18,0M0,-0.18L0,0.18", "M-1,0L1,0"]}, "legend": {"title": null}}
      }
    },
    {
      "transform": [{"filter": "datum.series === 'programme'"}],
      "mark": {"type": "line", "strokeWidth": 1.5, "clip": true, "color": "#9a30c8", "interpolate": "monotone"},
      "encoding": {
        "x": {"field": "q", "type": "quantitative", "scale": {"domain": [3.2, 3.8], "nice": false, "zero": false},
              "axis": {"orient": "bottom", "values": [3.25, 3.35, 3.45, 3.55, 3.65, 3.75], "tickSize": -5, "labels": false, "domain": false, "title": null}},
        "y": {"field": "int", "type": "quantitative", "scale": {"type": "log", "domain": [0.1, 40], "nice": false},
              "axis": {"orient": "left", "values": [0.2,0.3,0.4,0.5,0.6,0.7,0.8,0.9,2,3,4,5,6,7,8,9,20,30], "tickSize": -5, "labels": false, "domain": false, "title": null}}
      }
    },
    {
      "mark": {"type": "point", "opacity": 0},
      "encoding": {
        "x": {"field": "q", "type": "quantitative", "scale": {"domain": [3.2, 3.8], "nice": false, "zero": false},
              "axis": {"orient": "top", "values": [3.2, 3.3, 3.4, 3.5, 3.6, 3.7, 3.8], "tickSize": -9, "labels": false, "title": null}},
        "y": {"field": "int", "type": "quantitative", "scale": {"type": "log", "domain": [0.1, 40], "nice": false},
              "axis": {"orient": "right", "values": [0.1, 1, 10], "tickSize": -9, "labels": false, "title": null}}
      }
    },
    {
      "mark": {"type": "point", "opacity": 0},
      "encoding": {
        "x": {"field": "q", "type": "quantitative", "scale": {"domain": [3.2, 3.8], "nice": false, "zero": false},
              "axis": {"orient": "top", "values": [3.25, 3.35, 3.45, 3.55, 3.65, 3.75], "tickSize": -5, "labels": false, "domain": false, "title": null}},
        "y": {"field": "int", "type": "quantitative", "scale": {"type": "log", "domain": [0.1, 40], "nice": false},
              "axis": {"orient": "right", "values": [0.2,0.3,0.4,0.5,0.6,0.7,0.8,0.9,2,3,4,5,6,7,8,9,20,30], "tickSize": -5, "labels": false, "domain": false, "title": null}}
      }
    }
  ]
}
]
}
